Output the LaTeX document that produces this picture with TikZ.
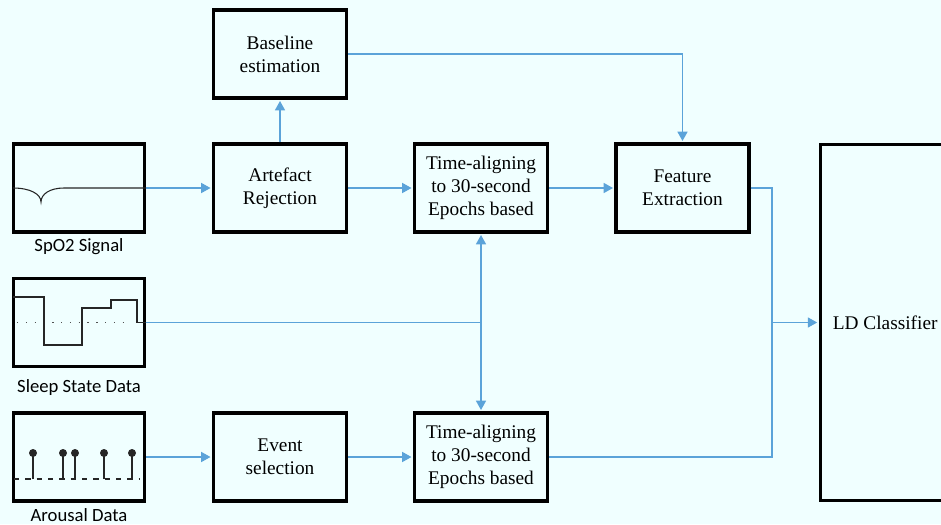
\documentclass[tikz,border=0pt]{standalone}
\usepackage{fontspec}
\setmainfont{Liberation Serif}
\newfontfamily\labelfont{Carlito}
\usetikzlibrary{arrows.meta}

\definecolor{bgcol}{RGB}{240,255,255}
\definecolor{linkblue}{RGB}{91,163,217}
\definecolor{tracecol}{RGB}{38,38,38}

\begin{document}
\begin{tikzpicture}[x=0.75pt,y=0.75pt,yscale=-1,xscale=1,
  block/.style={draw, line width=2.5pt, minimum width=99.75pt, minimum height=66pt, align=center, inner sep=2pt, font=\fontsize{14.5}{17.3}\selectfont},
  sigbox/.style={draw, line width=2.5pt, minimum width=98.25pt, minimum height=66pt, inner sep=0pt},
  caption/.style={font=\labelfont\fontsize{14}{16}\selectfont, inner sep=0pt, anchor=base},
  link/.style={draw=linkblue, line width=1.1pt},
  flow/.style={link, -{Triangle[length=7pt,width=7.5pt]}, shorten >=1pt},
  trace/.style={draw=tracecol, line width=0.8pt}
]
\useasboundingbox[fill=bgcol] (0,0) rectangle (941,524);

% input signals
\node[sigbox] (spo2) at (79,188) {};
\node[sigbox] (sleep) at (79,322.5) {};
\node[sigbox] (arousal) at (79,457) {};

\node[caption] (spo2lbl) at (79,251) {SpO2 Signal};
\node[caption] (sleeplbl) at (79,392) {Sleep State Data};
\node[caption] (arousallbl) at (79,521) {Arousal Data};

% processing blocks
\node[block] (baseline) at (280,54) {Baseline\\estimation};
\node[block] (artefact) at (280,188) {Artefact\\Rejection};
\node[block] (ta1) at (481,188) {Time-aligning\\to 30-second\\Epochs based};
\node[block] (fe) at (682.5,188) {Feature\\Extraction};
\node[block] (event) at (280,457) {Event\\selection};
\node[block] (ta2) at (481,457) {Time-aligning\\to 30-second\\Epochs based};
\node[block, minimum width=97.5pt, minimum height=267pt, anchor=west] (ld) at (818.5,322.5) {LD Classifier};

% SpO2 trace
\draw[trace] (13,188) .. controls (30,188) and (41,194) .. (41,202)
  .. controls (41,194) and (50,188) .. (64,188) -- (spo2.east);

% sleep stages
\draw[trace, dash pattern=on 1pt off 5.6pt, draw=tracecol!80] (17,322.5) -- (131,322.5);
\draw[trace] (13,297) -| (44,345) -| (82,308) -| (111,300) -| (137,322.5) -- (sleep.east);

% arousal events
\draw[trace, dash pattern=on 4pt off 4.5pt] (14,479) -- (140,479);
\foreach \px in {33,63,75,104,132} {
  \draw[trace] (\px,479) -- (\px,453);
  \fill[tracecol] (\px,453) circle[radius=3pt];
}

% connectors
\coordinate (sj) at (ta1.south |- sleep.east);
\coordinate (mj) at (772,322.5);

\draw[flow] (spo2.east) -- (artefact.west);
\draw[flow] (artefact.north) -- (baseline.south);
\draw[flow] (artefact.east) -- (ta1.west);
\draw[flow] (ta1.east) -- (fe.west);
\draw[flow] (baseline.east) -| (fe.north);
\draw[link] (sleep.east) -- (sj);
\draw[flow] (sj) -- (ta1.south);
\draw[flow] (sj) -- (ta2.north);
\draw[flow] (arousal.east) -- (event.west);
\draw[flow] (event.east) -- (ta2.west);
\draw[link] (fe.east) -| (mj);
\draw[link] (ta2.east) -| (mj);
\draw[flow] (mj) -- (ld.west);

\end{tikzpicture}
\end{document}
